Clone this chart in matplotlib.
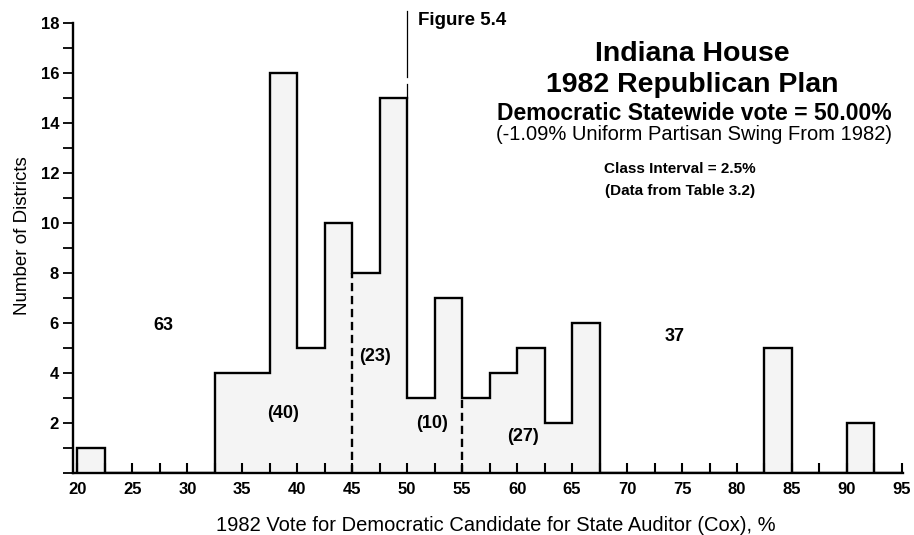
import numpy as np
import matplotlib.pyplot as plt
from matplotlib import font_manager
from matplotlib.ticker import MultipleLocator

plt.rcParams['font.family'] = ['Liberation Sans', 'DejaVu Sans']

# district counts per 2.5% class interval, 20% .. 95%
bin_edges = np.arange(20, 95.1, 2.5)
counts = [1, 0, 0, 0, 0, 4, 4, 16, 5, 10, 8, 15,
          3, 7, 3, 4, 5, 2, 6, 0, 0, 0, 0, 0, 0, 5, 0, 0, 2, 0]

group_labels = ['63', '(40)', '(23)', '(10)', '(27)', '37']
group_x = [27.8, 38.7, 47.1, 52.3, 60.5, 74.3]
group_y = [5.9, 2.4, 4.65, 2.0, 1.45, 5.45]

# narrow face for the small notes, if the system has it
try:
    font_manager.findfont('Liberation Sans Narrow', fallback_to_default=False)
    note_family, note_size = ['Liberation Sans Narrow', 'Liberation Sans'], 12.5
except ValueError:
    note_family, note_size = ['Liberation Sans'], 11

fig = plt.figure(figsize=(9.14, 5.35), dpi=100)
ax = fig.add_axes([73 / 914, 1 - 473 / 535, 830 / 914, 450 / 535])

ax.stairs(counts, bin_edges, fill=True, color='#f4f4f4', lw=0, zorder=1)
ax.stairs(counts, bin_edges, baseline=0, color='black', lw=1.7, zorder=3)

# cut lines at 45, 50 and 55
ax.plot([45, 45], [0, counts[10]], ls=(0, (3.5, 2)), color='black', lw=1.7, zorder=3)
ax.plot([55, 55], [0, counts[14]], ls=(0, (3.5, 2)), color='black', lw=1.7, zorder=3)
ax.plot([50, 50], [counts[11], 15.55], color='black', lw=0.9, zorder=3)
ax.plot([50, 50], [15.85, 18.5], color='black', lw=0.9, clip_on=False, zorder=3)

for txt, x, y in zip(group_labels, group_x, group_y):
    ax.text(x, y, txt, ha='center', va='center', fontsize=13, fontweight='bold')

ax.set_xlim(19.6, 95.1)
ax.set_ylim(0, 18)
for s in ['top', 'right']:
    ax.spines[s].set_visible(False)
for s in ['left', 'bottom']:
    ax.spines[s].set_linewidth(1.7)

ax.set_xticks(np.arange(20, 96, 5))
ax.set_xticklabels([str(v) for v in range(20, 96, 5)], fontweight='bold')
ax.xaxis.set_minor_locator(MultipleLocator(2.5))
ax.tick_params(axis='x', which='both', direction='in', length=7, width=1.5, pad=6.5,
               labelsize=12)

ax.set_yticks(np.arange(2, 19, 2))
ax.set_yticklabels([str(v) for v in range(2, 19, 2)], fontweight='bold')
ax.yaxis.set_minor_locator(MultipleLocator(1))
ax.tick_params(axis='y', which='both', direction='out', length=7, width=1.3, pad=3,
               labelsize=12)

ax.set_xlabel('1982 Vote for Democratic Candidate for State Auditor (Cox), %',
              fontsize=14.5, labelpad=13.5)
ax.xaxis.label.set_x(0.51)
ax.set_ylabel('Number of Districts', fontsize=13.5, labelpad=7)
ax.yaxis.label.set_y(0.527)

fig.text(418 / 914, 1 - 25 / 535, 'Figure 5.4', fontsize=13.5, fontweight='bold', va='baseline')
fig.text(692 / 914, 1 - 61 / 535, 'Indiana House', fontsize=20.5, fontweight='bold',
         ha='center', va='baseline')
fig.text(692 / 914, 1 - 92 / 535, '1982 Republican Plan', fontsize=20.5, fontweight='bold',
         ha='center', va='baseline')
fig.text(694 / 914, 1 - 120 / 535, 'Democratic Statewide vote = 50.00%', fontsize=16.5,
         fontweight='bold', ha='center', va='baseline')
fig.text(694 / 914, 1 - 140 / 535, '(-1.09% Uniform Partisan Swing From 1982)', fontsize=14.5,
         ha='center', va='baseline')
fig.text(680 / 914, 1 - 173 / 535, 'Class Interval = 2.5%', fontsize=note_size,
         fontweight='bold', family=note_family, ha='center', va='baseline')
fig.text(680 / 914, 1 - 195 / 535, '(Data from Table 3.2)', fontsize=note_size,
         fontweight='bold', family=note_family, ha='center', va='baseline')

fig.savefig('out.png', dpi=100)
